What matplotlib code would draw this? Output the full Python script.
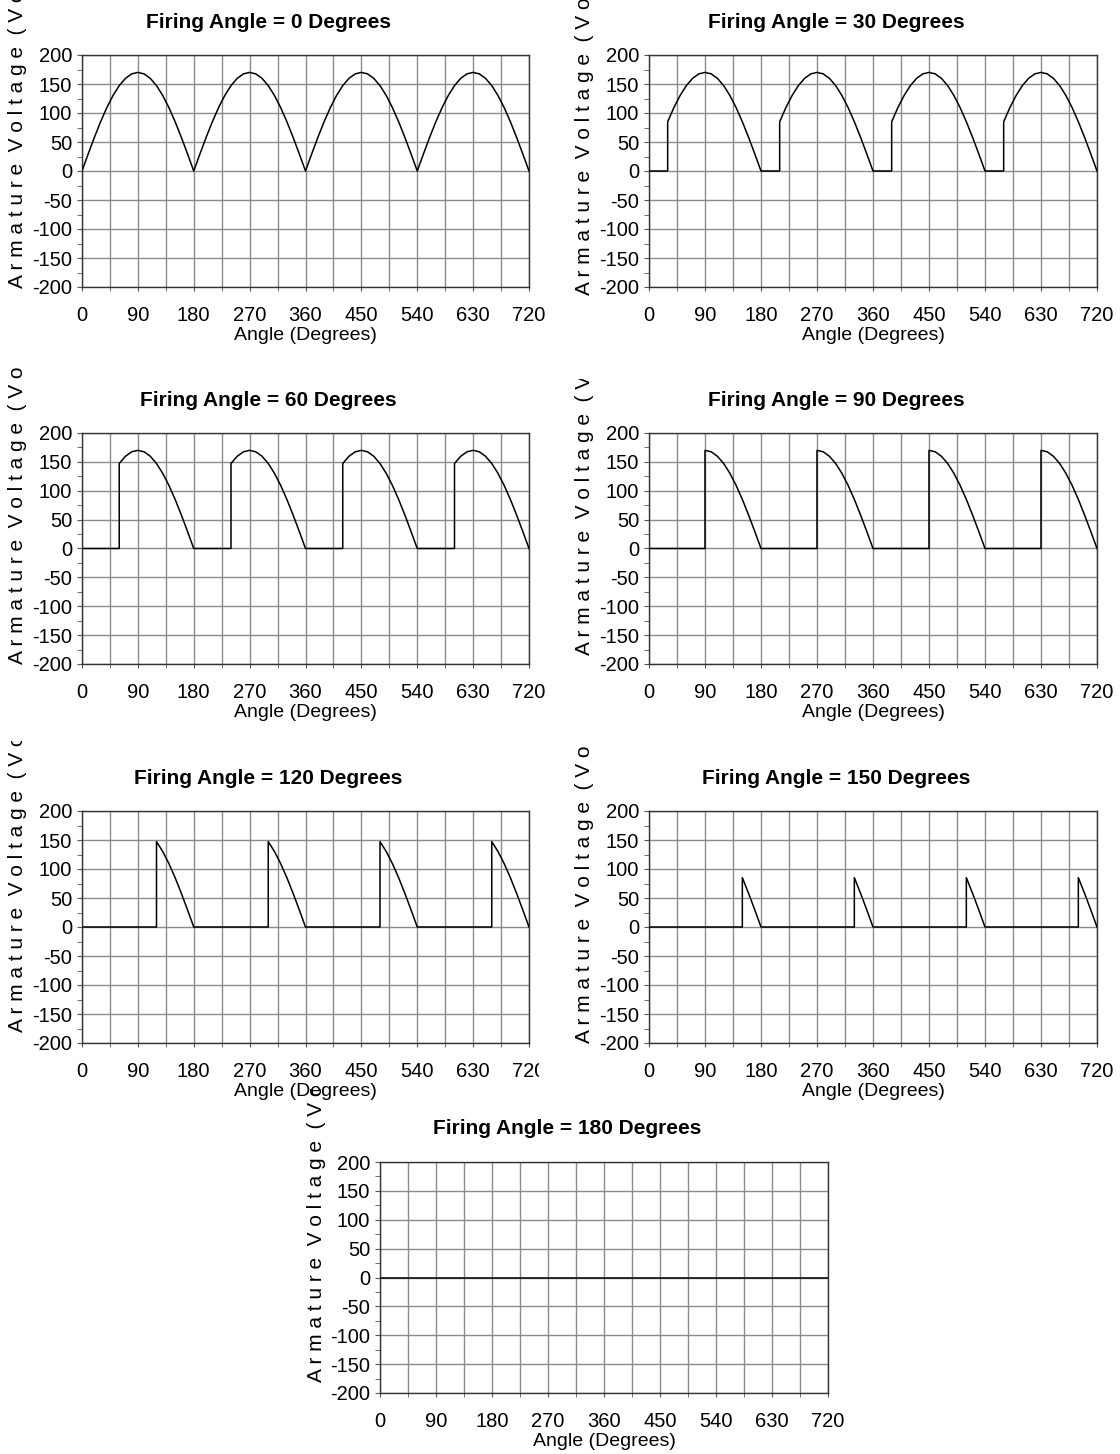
import matplotlib
matplotlib.use("Agg")
import matplotlib.pyplot as plt
from matplotlib.transforms import Bbox, TransformedBbox

plt.rcParams['font.family'] = ['Liberation Sans', 'DejaVu Sans']
plt.rcParams['axes.unicode_minus'] = False

half_angle = [0, 10, 20, 30, 40, 50, 60, 70, 80, 90,
              100, 110, 120, 130, 140, 150, 160, 170, 180]
half_volts = [0, 29.5, 58.1, 85.0, 109.3, 130.2, 147.2, 159.7, 167.4, 170.0,
              167.4, 159.7, 147.2, 130.2, 109.3, 85.0, 58.1, 29.5, 0]
firing_angles = [0, 30, 60, 90, 120, 150, 180]
n_half_cycles = 4

x_ticks = [0, 90, 180, 270, 360, 450, 540, 630, 720]
y_ticks = [-200, -150, -100, -50, 0, 50, 100, 150, 200]

ylabel_text = "A r m a t u r e  V o l t a g e  ( V o l t s )"

W, H = 1120, 1454
fig = plt.figure(figsize=(W / 100, H / 100), dpi=100)

# panel boxes in pixels: x0, y0 (top), x1, y1 (bottom)
boxes = [(82, 55, 529, 287), (649, 55, 1097, 287),
         (82, 433, 529, 664), (649, 433, 1097, 664),
         (82, 811, 529, 1043), (649, 811, 1097, 1043),
         (380, 1162, 828, 1393)]
# y label: x centre, start (bottom), clip top
ylab = [(18, 288, 0), (584, 295, 0),
        (18, 664, 368), (584, 655, 379),
        (18, 1032, 741), (584, 1043, 746),
        (316, 1382, 1089)]


def wave(alpha):
    xs, ys = [], []
    for k in range(n_half_cycles):
        for a, v in zip(half_angle, half_volts):
            if k > 0 and a == 0:
                continue
            x = 180 * k + a
            if a < alpha:
                xs.append(x)
                ys.append(0)
            elif a == alpha and 0 < alpha < 180:
                xs += [x, x]
                ys += [0, v]
            else:
                xs.append(x)
                ys.append(v)
    return xs, ys


axes = []
for alpha, (x0, y0, x1, y1), (lx, lb, lt) in zip(firing_angles, boxes, ylab):
    ax = fig.add_axes([x0 / W, 1 - y1 / H, (x1 - x0) / W, (y1 - y0) / H])
    axes.append(ax)
    xs, ys = wave(alpha)
    ax.plot(xs, ys, color='black', lw=1.1, zorder=3)
    ax.set_xlim(0, 720)
    ax.set_ylim(-200, 200)
    ax.set_xticks(x_ticks)
    ax.set_xticks([45 + 90 * i for i in range(8)], minor=True)
    ax.set_yticks(y_ticks)
    ax.set_yticks([-175 + 50 * i for i in range(8)], minor=True)
    ax.grid(which='both', axis='x', color='#8c8c8c', lw=1)
    ax.grid(which='major', axis='y', color='#8c8c8c', lw=1)
    ax.tick_params(axis='x', which='both', direction='out', length=3,
                   pad=11, labelsize=14.5, color='#555555')
    ax.tick_params(axis='y', which='both', direction='out', length=3.5,
                   pad=3.5, labelsize=14.5, color='#555555')
    for s in ax.spines.values():
        s.set_color('#333333')
        s.set_linewidth(1)
    ax.set_xlabel('Angle (Degrees)', fontsize=14, labelpad=1)

    # title, centred a bit left of the plot area
    cx = (x0 + x1) / 2 - 37
    fig.text(cx / W, 1 - (y0 - 33) / H, f'Firing Angle = {alpha} Degrees',
             ha='center', va='center', fontsize=15, fontweight='bold')

    # letter-spaced y label, cut off by the chart area
    t = fig.text(lx / W, 1 - lb / H, ylabel_text, rotation=90,
                 ha='center', va='bottom', fontsize=15)
    clip = Bbox.from_extents(0, 1 - lb / H - 0.02, 1, 1 - lt / H)
    t.set_clip_box(TransformedBbox(clip, fig.transFigure))
    t.set_clip_on(True)

# the lower-left chart cuts its last tick label at the chart edge
fig.canvas.draw()
cut = TransformedBbox(Bbox.from_extents(0, 0, 539 / W, 1), fig.transFigure)
for lab in axes[4].get_xticklabels():
    lab.set_clip_box(cut)
    lab.set_clip_on(True)

fig.savefig('out.png', dpi=100)
